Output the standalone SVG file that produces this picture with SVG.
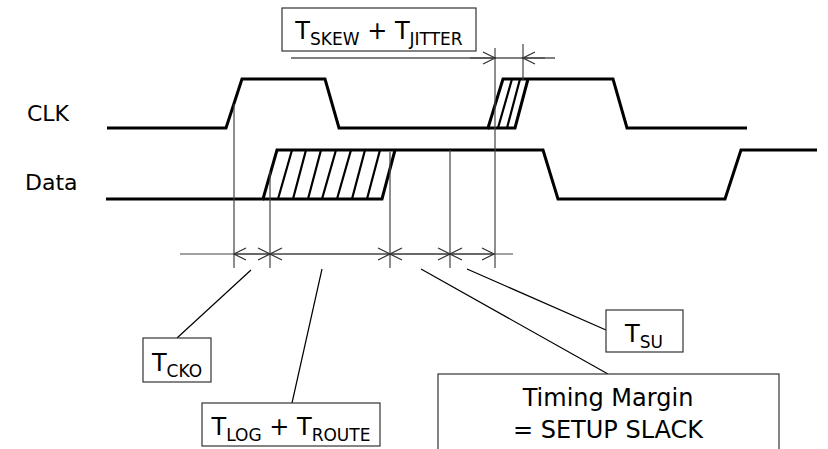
<svg xmlns="http://www.w3.org/2000/svg" width="828" height="449" viewBox="0 0 828 449">
<style>
.wave{fill:none;stroke:#000;stroke-width:3;stroke-linejoin:miter}
.hatch{fill:none;stroke:#000;stroke-width:2.2}
.ext{fill:none;stroke:#444;stroke-width:1.2}
.dim{fill:none;stroke:#444;stroke-width:1.2}
.lead{fill:none;stroke:#000;stroke-width:1.2}
.box{fill:#fff;stroke:#333;stroke-width:1.2}
text{font-family:"DejaVu Sans","Verdana",sans-serif;fill:#000}
.lbl{font-size:22px}
.t{font-size:24px;text-anchor:middle}
.s{font-size:17px}
</style>
<defs>
<marker id="ah" markerWidth="14" markerHeight="14" refX="13" refY="7" orient="auto-start-reverse" markerUnits="userSpaceOnUse">
<path d="M1,1 L13,7 L1,13" fill="none" stroke="#333" stroke-width="1.2"/>
</marker>
</defs>

<g id="labels">
<text class="lbl" x="27" y="121">CLK</text>
<text class="lbl" x="25" y="190">Data</text>
</g>

<g id="clk">
<path class="wave" d="M107,128 H226 L242,79 H325 L339,128 H488 L503,79 H613 L627,128 H747"/>
<path class="wave" d="M488,128 H515 L528,79"/>
<path class="hatch" d="M498,128 L512,79 M507,128 L520,79"/>
</g>

<g id="data">
<path class="wave" d="M106,199 H263 L277,150 H543 L558,199 H725 L741,150 H817"/>
<path class="wave" d="M263,199 H382 L395,150"/>
<path class="hatch" d="M278,199 L292,150 M293,199 L306,150 M308,199 L321,150 M322,199 L336,150 M337,199 L351,150 M352,199 L365,150 M367,199 L380,150"/>
</g>

<g id="connectors">
<path class="ext" d="M234,104 V268 M270,171 V268 M390,152 V268 M450,150 V268 M495,48 V268 M523,44 V80"/>
<path class="dim" d="M180,254 H513"/>
<path class="dim" d="M252,254 H234" marker-end="url(#ah)"/>
<path class="dim" d="M252,254 H270" marker-end="url(#ah)"/>
<path class="dim" d="M330,254 H270" marker-end="url(#ah)"/>
<path class="dim" d="M330,254 H390" marker-end="url(#ah)"/>
<path class="dim" d="M420,254 H390" marker-end="url(#ah)"/>
<path class="dim" d="M420,254 H450" marker-end="url(#ah)"/>
<path class="dim" d="M472,254 H450" marker-end="url(#ah)"/>
<path class="dim" d="M472,254 H494" marker-end="url(#ah)"/>
<path class="lead" d="M291,58 H555"/>
<path class="dim" d="M470,58 H495" marker-end="url(#ah)"/>
<path class="dim" d="M545,58 H523" marker-end="url(#ah)"/>
<path class="lead" d="M251,270 L177,338 M322,269 L292,403 M421,269 L608,374 M467,269 L606,330"/>
</g>

<g id="skew">
<rect class="box" x="282" y="8" width="194" height="43"/>
<text class="t" x="379" y="39">T<tspan class="s" dy="6">SKEW</tspan><tspan dy="-6"> + T</tspan><tspan class="s" dy="6">JITTER</tspan></text>
</g>

<g id="tcko">
<rect class="box" x="143" y="338" width="68" height="44"/>
<text class="t" x="177" y="371">T<tspan class="s" dy="6">CKO</tspan></text>
</g>

<g id="tlog">
<rect class="box" x="202" y="403" width="178" height="43"/>
<text class="t" x="291" y="435">T<tspan class="s" dy="6">LOG</tspan><tspan dy="-6"> + T</tspan><tspan class="s" dy="6">ROUTE</tspan></text>
</g>

<g id="tsu">
<rect class="box" x="606" y="310" width="77" height="42"/>
<text class="t" x="644" y="342">T<tspan class="s" dy="6">SU</tspan></text>
</g>

<g id="margin">
<rect class="box" x="438" y="374" width="341" height="90"/>
<text class="t" x="608" y="406">Timing Margin</text>
<text class="t" x="608" y="438">= SETUP SLACK</text>
</g>
</svg>
